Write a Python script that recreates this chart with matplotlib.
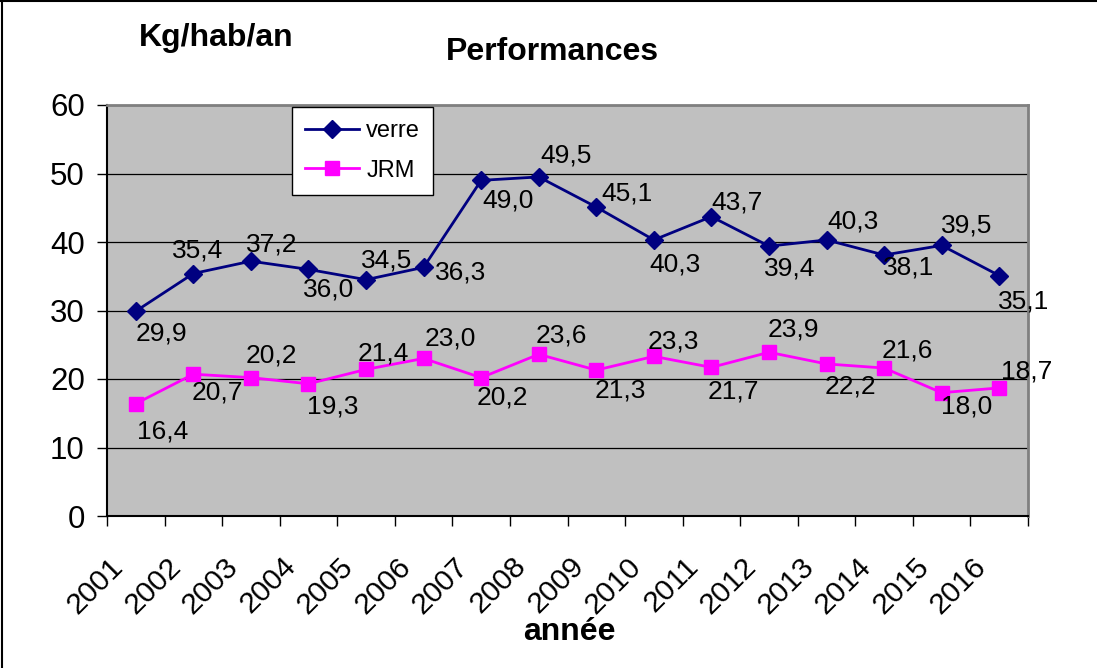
import matplotlib
matplotlib.use('Agg')
import matplotlib.pyplot as plt
import matplotlib.transforms as mtrans
from matplotlib.lines import Line2D

plt.rcParams['font.family'] = ['Liberation Sans', 'DejaVu Sans']

years = ['2001', '2002', '2003', '2004', '2005', '2006', '2007', '2008',
         '2009', '2010', '2011', '2012', '2013', '2014', '2015', '2016']
verre = [29.9, 35.4, 37.2, 36.0, 34.5, 36.3, 49.0, 49.5,
         45.1, 40.3, 43.7, 39.4, 40.3, 38.1, 39.5, 35.1]
jrm = [16.4, 20.7, 20.2, 19.3, 21.4, 23.0, 20.2, 23.6,
       21.3, 23.3, 21.7, 23.9, 22.2, 21.6, 18.0, 18.7]

# label offsets in pixels (dx right, dy down) as placed in the original
verre_off = [(26, 22), (4, -23), (21, -17), (20, 20), (21, -19), (37, 5), (27, 20), (27, -21),
             (31, -14), (21, 25), (26, -14), (21, 22), (26, -18), (25, 12), (25, -20), (24, 26)]
jrm_off = [(27, 28), (24, 18), (20, -22), (24, 23), (17, -16), (27, -20), (21, 20), (23, -19),
           (24, 20), (19, -15), (22, 24), (24, -23), (24, 23), (23, -18), (25, 14), (27, -16)]

fig = plt.figure(figsize=(10.97, 6.68), dpi=100)
ax = fig.add_axes([107 / 1097, 1 - 516 / 668, 921 / 1097, 411 / 668])
ax.set_facecolor('#c0c0c0')

x = list(range(len(years)))
ax.plot(x, verre, color='#000080', lw=2, marker='D', ms=9, label='verre', zorder=3)
ax.plot(x, jrm, color='#ff00ff', lw=2, marker='s', ms=10.5, label='JRM', zorder=3)

def fmt(v):
    return f'{v:.1f}'.replace('.', ',')

for vals, offs in [(verre, verre_off), (jrm, jrm_off)]:
    for xi, v, (dx, dy) in zip(x, vals, offs):
        ax.annotate(fmt(v), (xi, v), xytext=(dx, -dy), textcoords='offset pixels',
                    ha='center', va='center', fontsize=19, zorder=4)

ax.set_xlim(-0.5, len(years) - 0.5)
ax.set_ylim(0, 60)
ax.set_yticks(range(0, 61, 10))
ax.yaxis.grid(True, color='black', lw=0.9)
ax.set_axisbelow(True)
ax.tick_params(axis='y', labelsize=22.5, length=7, width=1, direction='out', pad=9)

ax.set_xticks([i - 0.5 for i in range(len(years) + 1)], minor=True)
ax.set_xticks(x)
ax.set_xticklabels(years, rotation=45, ha='right', va='top', rotation_mode='anchor', fontsize=21.5)
ax.tick_params(axis='x', which='major', length=0, pad=26)
ax.tick_params(axis='x', which='minor', length=7, width=1, direction='out')
shift = mtrans.ScaledTranslation(-27 / 100, 0, fig.dpi_scale_trans)
for lbl in ax.get_xticklabels():
    lbl.set_transform(lbl.get_transform() + shift)

for s in ['top', 'right']:
    ax.spines[s].set_color('#808080')
    ax.spines[s].set_linewidth(2)
for s in ['left', 'bottom']:
    ax.spines[s].set_color('black')
    ax.spines[s].set_linewidth(1.5)

leg = ax.legend(loc='upper left', bbox_to_anchor=(292 / 1097, 1 - 107 / 668),
                bbox_transform=fig.transFigure, fontsize=17, frameon=True,
                fancybox=False, framealpha=1, edgecolor='black', handlelength=2.3,
                labelspacing=0.75, borderpad=0.55, handletextpad=0.3, borderaxespad=0)
leg.get_frame().set_linewidth(1)

fig.text(216 / 1097, 1 - 38 / 668, 'Kg/hab/an', ha='center', va='center',
         fontsize=23, fontweight='bold')
fig.text(552 / 1097, 1 - 52 / 668, 'Performances', ha='center', va='center',
         fontsize=23, fontweight='bold')
fig.text(569 / 1097, 1 - 632 / 668, 'année', ha='center', va='center',
         fontsize=23, fontweight='bold')

# outer chart border (top and left edges visible in the original)
fig.add_artist(Line2D([0.0015, 0.0015], [0, 0.998], transform=fig.transFigure, color='black', lw=1.5))
fig.add_artist(Line2D([0, 1], [0.998, 0.998], transform=fig.transFigure, color='black', lw=1.5))

fig.savefig('out.png', dpi=100)
